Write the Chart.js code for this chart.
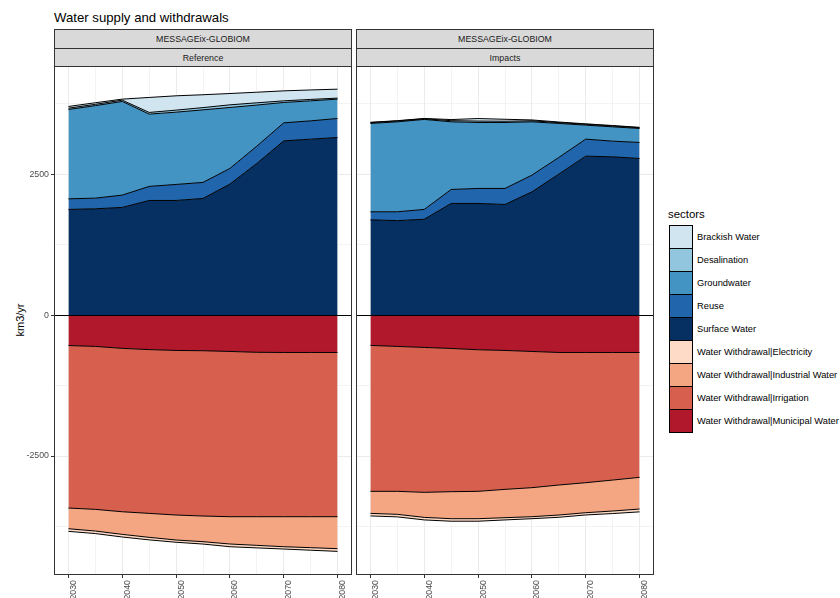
<!DOCTYPE html>
<html><head><meta charset="utf-8">
<script src="https://cdn.jsdelivr.net/npm/chart.js@4.4.1/dist/chart.umd.min.js"></script>
<style>
body{margin:0;width:840px;height:598px;background:#fff;position:relative;overflow:hidden;font-family:"Liberation Sans",Arial,sans-serif;}
canvas{position:absolute;top:0;}
.strip{position:absolute;background:#D9D9D9;border:1px solid #333;box-sizing:border-box;display:flex;align-items:center;justify-content:center;font-size:8.8px;color:#1A1A1A;}
.key{position:absolute;left:669px;width:24px;height:24px;border:1px solid #000;box-sizing:border-box;}
.klab{position:absolute;left:697px;font-size:9.3px;line-height:10px;color:#000;white-space:nowrap;}
</style></head>
<body>
<div style="position:absolute;left:54px;top:10.5px;font-size:13.2px;line-height:13.2px;color:#000;white-space:nowrap;">Water supply and withdrawals</div>
<div style="position:absolute;left:20px;top:320px;transform:translate(-50%,-50%) rotate(-90deg);font-size:11px;color:#000;white-space:nowrap;">km3/yr</div>
<div class="strip" style="left:54px;top:29px;width:298px;height:20px;">MESSAGEix-GLOBIOM</div>
<div class="strip" style="left:54px;top:48px;width:298px;height:19px;">Reference</div>
<div class="strip" style="left:356px;top:29px;width:298px;height:20px;">MESSAGEix-GLOBIOM</div>
<div class="strip" style="left:356px;top:48px;width:298px;height:19px;">Impacts</div>
<canvas id="c1" width="354" height="598" style="left:0px;"></canvas>
<canvas id="c2" width="306" height="598" style="left:354px;"></canvas>
<div id="legend"></div>
<script>
const years = [2030, 2035, 2040, 2045, 2050, 2055, 2060, 2065, 2070, 2075, 2080];
const sectors = ["Brackish Water","Desalination","Groundwater","Reuse","Surface Water",
  "Water Withdrawal|Electricity","Water Withdrawal|Industrial Water","Water Withdrawal|Irrigation","Water Withdrawal|Municipal Water"];
const colors = ["#D1E5F0","#92C5DE","#4393C3","#2166AC","#053061","#FDDBC7","#F4A582","#D6604D","#B2182B"];
const xTickLabels = [2030, 2040, 2050, 2060, 2070, 2080];
const xGrid = [2030, 2035, 2040, 2045, 2050, 2055, 2060, 2065, 2070, 2075, 2080];
const yTickLabels = [-2500, 0, 2500];
const yGrid = [-3750, -2500, -1250, 0, 1250, 2500, 3750];

// Reference scenario (km3/yr)
const refSurface     = [1874, 1885, 1910, 2033, 2033, 2069, 2323, 2690, 3090, 3120, 3150];
const refReuse       = [188, 189, 218, 249, 284, 284, 278, 306, 320, 325, 337];
const refGround      = [1585, 1641, 1661, 1282, 1282, 1287, 1081, 729, 361, 355, 343];
const refDesal       = [23, 23, 23, 30, 36, 40, 47, 40, 29, 25, 18];
const refBrackish    = [30, 28, 18, 266, 254, 228, 201, 188, 177, 168, 159];
const refMunicipal   = [-540, -556, -590, -612, -627, -632, -645, -660, -663, -663, -663];
const refIrrigation  = [-2882, -2890, -2898, -2905, -2919, -2932, -2931, -2916, -2913, -2913, -2913];
const refIndustrial  = [-367, -384, -401, -425, -443, -455, -484, -508, -532, -549, -567];
const refElectricity = [-47, -45, -47, -45, -40, -42, -48, -45, -41, -45, -48];

// Impacts scenario (km3/yr)
const impSurface     = [1690, 1675, 1700, 1980, 1980, 1962, 2186, 2500, 2819, 2807, 2778];
const impReuse       = [142, 157, 174, 248, 266, 284, 296, 296, 302, 278, 284];
const impGround      = [1567, 1596, 1596, 1200, 1170, 1170, 946, 603, 248, 254, 248];
const impDesal       = [15, 15, 12, 20, 25, 22, 18, 15, 15, 15, 12];
const impBrackish    = [5, 5, 5, 20, 45, 35, 15, 10, 8, 8, 8];
const impMunicipal   = [-538, -556, -574, -592, -615, -627, -645, -663, -663, -663, -663];
const impIrrigation  = [-2588, -2570, -2570, -2540, -2511, -2464, -2416, -2351, -2310, -2263, -2215];
const impIndustrial  = [-391, -408, -444, -479, -485, -502, -515, -532, -532, -549, -562];
const impElectricity = [-45, -45, -45, -45, -45, -40, -35, -40, -40, -45, -50];

const FONT = '"Liberation Sans", Arial, sans-serif';

const panelPlugin = {
  id: 'panel',
  afterDatasetsDraw(chart) {
    const {ctx, chartArea: a, scales: {y}} = chart;
    ctx.save();
    const y0 = Math.round(y.getPixelForValue(0)) + 0.5;
    ctx.strokeStyle = '#000'; ctx.lineWidth = 1;
    ctx.beginPath(); ctx.moveTo(a.left, y0); ctx.lineTo(a.right, y0); ctx.stroke();
    ctx.strokeStyle = '#333';
    ctx.strokeRect(a.left - 0.5, a.top - 0.5, a.right - a.left + 1, a.bottom - a.top + 1);
    ctx.restore();
  }
};

function pts(vals) { return years.map((yr, i) => ({x: yr, y: vals[i]})); }

function makeChart(id, series, showY, padL, padR) {
  const order = [
    [4, series.surface, 'origin'], [3, series.reuse, '-1'], [2, series.ground, '-1'],
    [1, series.desal, '-1'], [0, series.brackish, '-1'],
    [8, series.municipal, 'origin'], [7, series.irrigation, '-1'],
    [6, series.industrial, '-1'], [5, series.electricity, '-1']
  ];
  const datasets = order.map(([ci, vals, fill]) => ({
    label: sectors[ci], data: pts(vals), backgroundColor: colors[ci],
    borderColor: '#000', borderWidth: 1, pointRadius: 0, tension: 0, fill: fill
  }));
  const xMajor = c => c.tick && xTickLabels.includes(c.tick.value);
  const yMajor = c => c.tick && yTickLabels.includes(c.tick.value);
  return new Chart(document.getElementById(id), {
    type: 'line',
    data: {datasets},
    options: {
      responsive: false, animation: false, devicePixelRatio: 1,
      layout: {padding: {left: padL, right: padR, top: 67, bottom: 0}},
      plugins: {legend: {display: false}, tooltip: {enabled: false}, filler: {drawTime: 'beforeDatasetsDraw'}},
      scales: {
        x: {
          type: 'linear', min: 2027.5, max: 2082.5,
          afterBuildTicks: s => { s.ticks = xGrid.map(v => ({value: v})); },
          ticks: {autoSkip: false, minRotation: 90, maxRotation: 90,
            labelOffset: 5, padding: 2, color: '#4D4D4D', font: {family: FONT, size: 8.8},
            callback: v => xTickLabels.includes(v) ? String(v) : ''},
          grid: {color: '#EBEBEB', lineWidth: c => xMajor(c) ? 1 : 0.6,
            tickLength: 4, tickColor: c => xMajor(c) ? '#333' : 'rgba(0,0,0,0)'},
          border: {display: false},
          afterFit: s => { s.height = 24; }
        },
        y: {
          type: 'linear', stacked: true, min: -4592, max: 4400,
          afterBuildTicks: s => { s.ticks = yGrid.map(v => ({value: v})); },
          ticks: {padding: 2, color: '#4D4D4D', font: {family: FONT, size: 8.8},
            callback: v => (showY && yTickLabels.includes(v)) ? String(v) : ''},
          grid: {color: '#EBEBEB', lineWidth: c => yMajor(c) ? 1 : 0.6,
            tickLength: showY ? 4 : 0, tickColor: c => (showY && yMajor(c)) ? '#333' : 'rgba(0,0,0,0)'},
          border: {display: false},
          afterFit: s => { s.width = showY ? 55 : 0; }
        }
      }
    },
    plugins: [panelPlugin]
  });
}

makeChart('c1', {surface: refSurface, reuse: refReuse, ground: refGround, desal: refDesal, brackish: refBrackish,
  municipal: refMunicipal, irrigation: refIrrigation, industrial: refIndustrial, electricity: refElectricity}, true, 0, 3);
makeChart('c2', {surface: impSurface, reuse: impReuse, ground: impGround, desal: impDesal, brackish: impBrackish,
  municipal: impMunicipal, irrigation: impIrrigation, industrial: impIndustrial, electricity: impElectricity}, false, 3, 7);

// legend
const lg = document.getElementById('legend');
let html = '<div style="position:absolute;left:668px;top:208px;font-size:11.4px;line-height:13px;color:#000;">sectors</div>';
sectors.forEach((s, i) => {
  const top = 225 + i * 23;
  html += `<div class="key" style="top:${top}px;background:${colors[i]};"></div>`;
  html += `<div class="klab" style="top:${top + 7}px;">${s}</div>`;
});
lg.innerHTML = html;
</script>
</body></html>
